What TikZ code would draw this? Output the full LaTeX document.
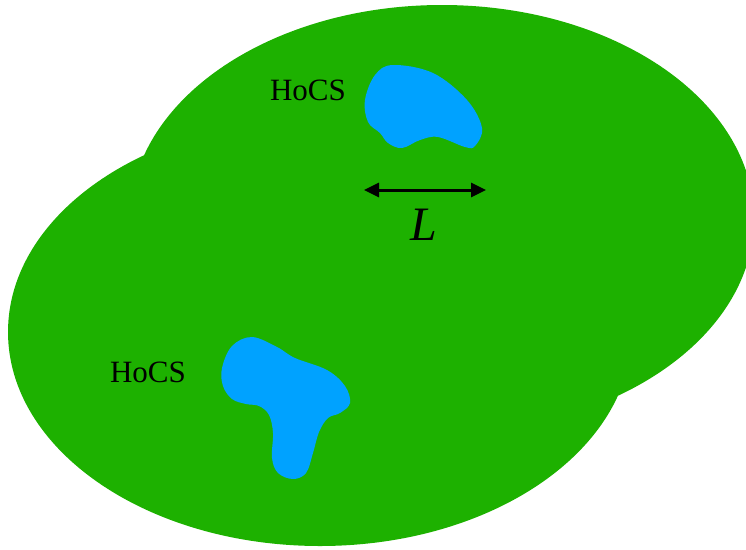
\documentclass[tikz,border=0pt]{standalone}
\usepackage{fontspec}
\setmainfont{Liberation Serif}
\usetikzlibrary{arrows.meta}
\definecolor{field}{RGB}{29,177,0}
\definecolor{hocs}{RGB}{0,162,255}
\tikzset{
  region/.style={fill=field, draw=none},
  blob/.style={fill=hocs, draw=none},
  lab/.style={font=\fontsize{31}{36}\selectfont, inner sep=0pt},
  scalearrow/.style={line width=3pt, {Triangle[length=15pt,width=14pt]}-{Triangle[length=15pt,width=14pt]}}
}
\begin{document}
\begin{tikzpicture}[x=1pt,y=-1pt]
\useasboundingbox (0,0) rectangle (746,549);
\begin{scope}
\clip (0,0) rectangle (746,549);
\fill[region] (442,219) ellipse [x radius=312, y radius=214];
\fill[region] (320,332) ellipse [x radius=312, y radius=214];
\end{scope}
% upper HoCS blob
\fill[blob] plot[smooth cycle, tension=0.6] coordinates {
 (365,100) (375,75) (393,65) (433,73) (467,100) (482,128) (475,146) (465,147)
 (438,137) (420,140) (402,148) (388,143) (380,133) (368,122)};
% lower HoCS blob
\fill[blob] plot[smooth cycle, tension=0.6] coordinates {
 (222,368) (232,346) (252,337) (277,347) (295,358) (327,370) (345,386) (350,403)
 (340,413) (328,418) (319,432) (313,453) (306,473) (293,479) (278,473) (272,458)
 (273,433) (269,415) (259,406) (246,404) (232,399) (223,386)};
\node[lab] (h1) at (308,90) {HoCS};
\node[lab] (h2) at (148,372) {HoCS};
\coordinate (la) at (364,190);
\coordinate (lb) at (486,190);
\draw[scalearrow] (la) -- (lb);
\node[font=\fontsize{48}{54}\selectfont\itshape, inner sep=0pt] (L) at (424,225) {L};
\end{tikzpicture}
\end{document}
